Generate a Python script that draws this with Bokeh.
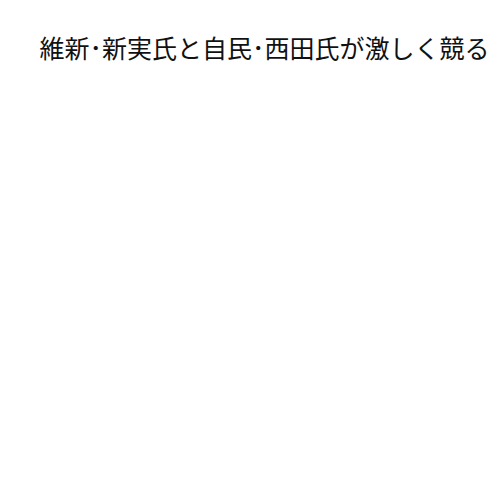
from bokeh.plotting import figure
from bokeh.models import Title
from bokeh.embed import file_html
from bokeh.resources import INLINE

title_text = "維新･新実氏と自民･西田氏が激しく競る"

p = figure(width=492, height=484, output_backend="svg", toolbar_location=None,
           x_range=(0, 1), y_range=(0, 1))
p.title = Title(text=title_text, text_font="Noto Sans CJK JP", text_font_size="25px",
                text_font_style="normal", text_color="#111111", align="left",
                offset=39, standoff=0)
p.title.padding = 0
p.xaxis.visible = False
p.yaxis.visible = False
p.xgrid.visible = False
p.ygrid.visible = False
p.outline_line_color = None
p.min_border_left = 0
p.min_border_right = 0
p.min_border_top = 64
p.min_border_bottom = 0
p.background_fill_color = "white"
p.border_fill_color = "white"

open("out.html", "w").write(file_html(p, INLINE))
